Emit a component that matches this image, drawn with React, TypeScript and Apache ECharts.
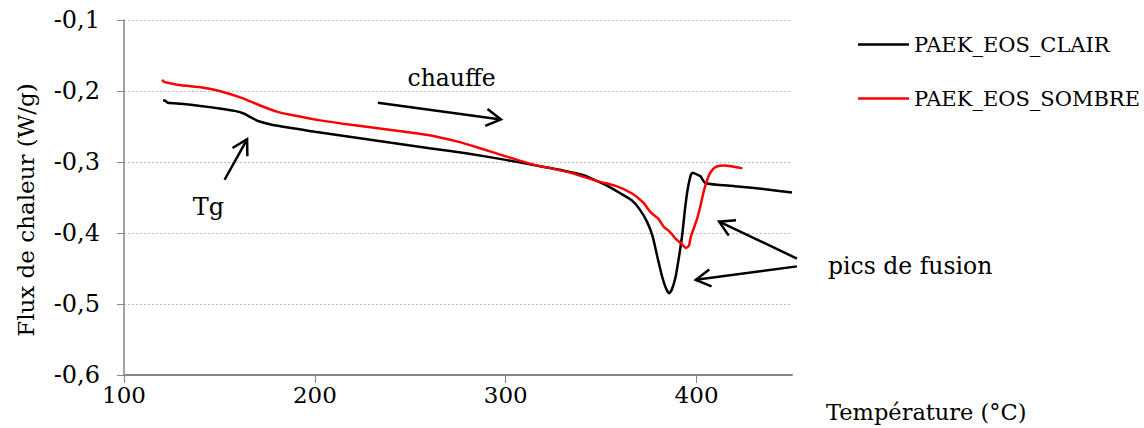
import React, { useEffect, useRef } from "react";
import * as echarts from "echarts";

const FONT = "DejaVu Serif";

const clairT = [120.5, 121.5, 123, 130, 140, 150, 158, 163, 167, 171, 178, 185, 192, 200, 220, 240, 260, 280, 300, 320, 330, 340, 348, 355, 360, 366, 370, 374, 377, 380, 382, 384, 385.7, 387, 389, 391, 392.6, 394, 395.3, 397, 398, 400.5, 402, 404.8, 420, 435, 450];
const clairV = [-0.213, -0.2135, -0.2165, -0.218, -0.221, -0.2245, -0.228, -0.232, -0.238, -0.243, -0.248, -0.251, -0.254, -0.2575, -0.265, -0.273, -0.2805, -0.288, -0.297, -0.307, -0.312, -0.318, -0.327, -0.336, -0.344, -0.354, -0.366, -0.384, -0.405, -0.44, -0.462, -0.478, -0.485, -0.48, -0.462, -0.43, -0.4, -0.365, -0.339, -0.318, -0.315, -0.318, -0.32, -0.33, -0.334, -0.338, -0.343];

const sombreT = [120, 121, 124, 130, 141, 150, 162, 170, 180, 190, 202, 220, 240, 254, 265, 276, 287, 300, 315, 324, 335, 348, 358, 366, 372, 376, 380, 383, 385, 386.5, 389, 392, 394.4, 396, 397, 399, 400.5, 402, 404, 406.6, 409, 411, 414.4, 418, 424];
const sombreV = [-0.184, -0.187, -0.189, -0.192, -0.195, -0.2, -0.21, -0.219, -0.229, -0.235, -0.241, -0.248, -0.255, -0.26, -0.265, -0.272, -0.281, -0.292, -0.304, -0.309, -0.316, -0.327, -0.334, -0.344, -0.357, -0.371, -0.38, -0.392, -0.396, -0.4, -0.408, -0.415, -0.421, -0.418, -0.405, -0.39, -0.378, -0.362, -0.339, -0.318, -0.309, -0.306, -0.305, -0.306, -0.309];

const seriesNames = ["PAEK_EOS_CLAIR", "PAEK_EOS_SOMBRE"];
const xTicks = [100, 200, 300, 400];

// annotations in data coordinates: [fromT, fromV, toT, toV]
const arrows = [
  [233.0, -0.2165, 297.5, -0.24],
  [152.7, -0.325, 164.5, -0.268],
  [452.6, -0.436, 411.8, -0.384],
  [452.6, -0.447, 399.6, -0.466],
];
const labels: [string, number, number, number][] = [
  ["chauffe", 271.6, -0.181, 23.5],
  ["Tg", 144.3, -0.363, 24],
];
const fusionLabel: [string, number, number] = ["pics de fusion", 453.5, -0.446];

export default function App() {
  const ref = useRef<HTMLDivElement>(null);
  useEffect(() => {
    if (!ref.current) return;
    const chart = echarts.init(ref.current, null, { renderer: "svg" });
    chart.setOption({
      animation: false,
      textStyle: { fontFamily: FONT },
      grid: { left: 124, right: 352, top: 20, bottom: 53 },
      legend: {
        orient: "vertical",
        left: 853,
        top: 29,
        itemWidth: 51,
        itemHeight: 14,
        itemGap: 33,
        icon: "path://M0,6 L51,6 L51,8.5 L0,8.5 Z",
        textStyle: { fontFamily: FONT, fontSize: 21, color: "#000" },
        data: seriesNames,
      },
      xAxis: {
        type: "value",
        min: 100,
        max: 450,
        interval: 100,
        axisLine: { lineStyle: { color: "#868686", width: 2 } },
        axisTick: { show: true, length: 8, lineStyle: { color: "#868686" }, customValues: xTicks },
        axisLabel: { fontFamily: FONT, fontSize: 23, color: "#000", margin: 8, customValues: xTicks },
        splitLine: { show: false },
      },
      yAxis: {
        type: "value",
        min: -0.6,
        max: -0.1,
        interval: 0.1,
        axisLine: { show: true, lineStyle: { color: "#868686", width: 1.5 } },
        axisTick: { show: true, length: 7, lineStyle: { color: "#868686" } },
        axisLabel: {
          fontFamily: FONT,
          fontSize: 24,
          color: "#000",
          margin: 24,
          formatter: (v: number) => v.toFixed(1).replace(".", ","),
        },
        splitLine: { lineStyle: { color: "#bdbdbd", type: [2, 2], width: 1 } },
      },
      series: [
        {
          name: seriesNames[0],
          type: "line",
          showSymbol: false,
          smooth: 0.2,
          lineStyle: { color: "#000", width: 2.5 },
          itemStyle: { color: "#000" },
          data: clairT.map((t, i) => [t, clairV[i]]),
        },
        {
          name: seriesNames[1],
          type: "line",
          showSymbol: false,
          smooth: 0.2,
          lineStyle: { color: "#ff0000", width: 2.5 },
          itemStyle: { color: "#ff0000" },
          data: sombreT.map((t, i) => [t, sombreV[i]]),
        },
      ],
    });

    const px = (t: number, v: number) => chart.convertToPixel({ gridIndex: 0 }, [t, v]) as number[];
    const graphics: any[] = [];
    arrows.forEach(([t0, v0, t1, v1]) => {
      const a = px(t0, v0);
      const b = px(t1, v1);
      const dx = b[0] - a[0];
      const dy = b[1] - a[1];
      const len = Math.hypot(dx, dy);
      const ux = dx / len;
      const uy = dy / len;
      const h = 17;
      const ang = Math.PI / 6;
      const cos = Math.cos(ang);
      const sin = Math.sin(ang);
      const l = [b[0] - h * (ux * cos - uy * sin), b[1] - h * (uy * cos + ux * sin)];
      const r = [b[0] - h * (ux * cos + uy * sin), b[1] - h * (uy * cos - ux * sin)];
      graphics.push({
        type: "line",
        shape: { x1: a[0], y1: a[1], x2: b[0], y2: b[1] },
        style: { stroke: "#000", lineWidth: 2.5 },
      });
      graphics.push({
        type: "polyline",
        shape: { points: [l, b, r] },
        style: { stroke: "#000", lineWidth: 2.5, fill: null },
      });
    });
    labels.forEach(([txt, t, v, fs]) => {
      const p = px(t, v);
      graphics.push({
        type: "text",
        x: p[0],
        y: p[1],
        style: { text: txt, font: `${fs}px "${FONT}"`, fill: "#000", align: "center", verticalAlign: "middle" },
      });
    });
    const fp = px(fusionLabel[1], fusionLabel[2]);
    graphics.push({
      type: "text",
      x: 828,
      y: fp[1],
      style: { text: fusionLabel[0], font: `23.5px "${FONT}"`, fill: "#000", align: "left", verticalAlign: "middle" },
    });
    graphics.push({
      type: "text",
      x: 826,
      y: 412,
      style: { text: "Température (°C)", font: `22.5px "${FONT}"`, fill: "#000", align: "left", verticalAlign: "middle" },
    });
    graphics.push({
      type: "text",
      x: 26,
      y: 210,
      rotation: Math.PI / 2,
      style: { text: "Flux de chaleur (W/g)", font: `23px "${FONT}"`, fill: "#000", align: "center", verticalAlign: "middle" },
    });
    chart.setOption({ graphic: graphics });

    return () => chart.dispose();
  }, []);
  return <div ref={ref} style={{ width: 1144, height: 428, position: "absolute", left: 0, top: 0 }} />;
}
